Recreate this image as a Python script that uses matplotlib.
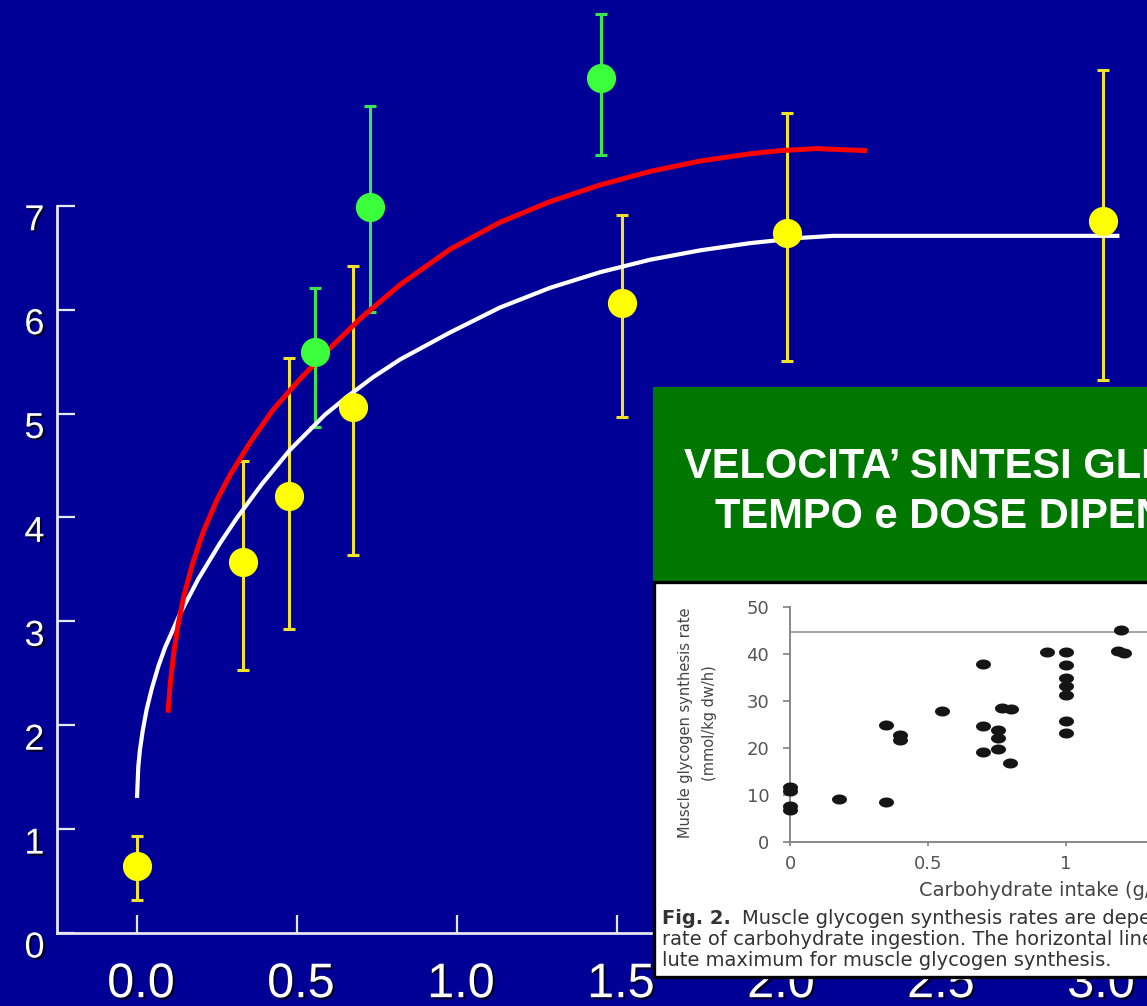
import matplotlib
matplotlib.use("Agg")
import numpy as np
import matplotlib.pyplot as plt
import matplotlib.patheffects as pe
from matplotlib.patches import Rectangle
from matplotlib.path import Path
from matplotlib.markers import MarkerStyle
from matplotlib.transforms import ScaledTranslation

# --- main panel data: glycogen synthesis vs carbohydrate intake ---
yellow_x = [0.0, 0.331, 0.475, 0.675, 1.516, 2.03, 3.02]
yellow_y = [0.645, 3.57, 4.21, 5.06, 6.06, 6.74, 6.85]
yellow_lo = [0.32, 2.53, 2.93, 3.64, 4.97, 5.51, 5.32]
yellow_hi = [0.93, 4.54, 5.53, 6.42, 6.91, 7.89, 8.31]

green_x = [0.556, 0.728, 1.45]
green_y = [5.59, 6.99, 8.23]
green_lo = [4.87, 5.98, 7.49]
green_hi = [6.21, 7.96, 8.85]

white_x = [0.0, 0.004, 0.009, 0.018, 0.030, 0.046, 0.067, 0.088, 0.134,
           0.192, 0.259, 0.311, 0.390, 0.478, 0.588, 0.660, 0.738, 0.822,
           0.978, 1.134, 1.291, 1.447, 1.603, 1.759, 1.916, 2.072, 2.175, 3.07]
white_y = [1.30, 1.60, 1.76, 1.95, 2.15, 2.35, 2.57, 2.75, 3.07,
           3.41, 3.75, 3.99, 4.32, 4.65, 4.99, 5.17, 5.35, 5.52,
           5.78, 6.02, 6.21, 6.36, 6.48, 6.57, 6.64, 6.69, 6.71, 6.71]

red_x = [0.097, 0.104, 0.115, 0.128, 0.146, 0.175, 0.208, 0.250, 0.291,
         0.353, 0.426, 0.509, 0.600, 0.700, 0.822, 0.978, 1.134, 1.291,
         1.447, 1.603, 1.759, 1.916, 2.009, 2.124, 2.281]
red_y = [2.12, 2.40, 2.70, 2.96, 3.24, 3.57, 3.87, 4.17, 4.41,
         4.72, 5.04, 5.33, 5.62, 5.92, 6.24, 6.58, 6.84, 7.04,
         7.20, 7.33, 7.43, 7.50, 7.53, 7.55, 7.53]

x_ticks = [0.0, 0.5, 1.0, 1.5, 2.0, 2.5, 3.0]
x_labels = ["0.0", "0.5", "1.0", "1.5", "2.0", "2.5", "3.0"]
y_ticks = [0, 1, 2, 3, 4, 5, 6, 7]

# --- inset: individual synthesis rates (mmol/kg dw/h) ---
dot_x = [0, 0, 0, 0, 0.177, 0.348, 0.348, 0.40, 0.40, 0.551,
         0.701, 0.701, 0.701, 0.753, 0.753, 0.753, 0.767, 0.80, 0.798,
         0.93, 1.0, 1.0, 1.0, 1.0, 1.0, 1.0, 1.0, 1.20, 1.19, 1.21]
dot_y = [11.8, 10.9, 7.6, 6.9, 9.2, 8.6, 25.0, 22.8, 21.7, 27.9,
         37.8, 24.7, 19.2, 23.8, 22.1, 19.9, 28.6, 28.3, 16.8,
         40.3, 40.3, 37.6, 34.8, 33.2, 31.3, 25.8, 23.1, 45.0, 40.6, 40.2]
max_rate = 44.7
inset_yticks = [0, 10, 20, 30, 40, 50]
inset_xticks = [0, 0.5, 1]
inset_xlabels = ["0", "0.5", "1"]

title_lines = ["VELOCITA\u2019 SINTESI GLICOGENO", "TEMPO e DOSE DIPENDENTE"]
caption_lines = [
    "Muscle glycogen synthesis rates are dependent on the",
    "rate of carbohydrate ingestion. The horizontal line represents the abso-",
    "lute maximum for muscle glycogen synthesis.",
]

BG = "#000096"
YELLOW = "#FFFF00"
YBAR = "#F2E22C"
GREEN = "#3CFF3C"
GBAR = "#3AE650"

W, H = 1147, 1006
fig = plt.figure(figsize=(W / 100, H / 100), dpi=100, facecolor=BG)


def fx(px):
    return px / W


def fy(py):
    return 1 - py / H


shadow = [pe.withSimplePatchShadow(offset=(1.5, -1.5), shadow_rgbFace="black", alpha=0.7)]

ax = fig.add_axes([fx(57), fy(933), 1 - fx(57), fy(0) - fy(933)])
ax.set_facecolor(BG)
ax.set_xlim(-0.25, 3.156)
ax.set_ylim(0, 8.98)

for s in ["top", "right"]:
    ax.spines[s].set_visible(False)
for s in ["left", "bottom"]:
    ax.spines[s].set_color("#E6E6F0")
    ax.spines[s].set_linewidth(2.0)
ax.spines["left"].set_bounds(0, 7)

ax.set_xticks(x_ticks)
ax.set_xticklabels(x_labels)
ax.set_yticks(y_ticks)
ax.tick_params(axis="both", direction="in", length=13, width=1.6, colors="#E6E6F0")
ax.tick_params(axis="x", labelsize=35, pad=21, labelcolor="white")
ax.tick_params(axis="y", labelsize=26, pad=9, labelcolor="white")
for lbl in ax.get_xticklabels() + ax.get_yticklabels():
    lbl.set_family("Liberation Sans")
    lbl.set_path_effects(shadow)
for lbl in ax.get_yticklabels():
    lbl.set_transform(lbl.get_transform() + ScaledTranslation(0, -0.11, fig.dpi_scale_trans))
for lbl in ax.get_xticklabels():
    lbl.set_transform(lbl.get_transform() + ScaledTranslation(0.04, 0, fig.dpi_scale_trans))

# error bars under the curves, markers on top
yerr = [np.array(yellow_y) - np.array(yellow_lo), np.array(yellow_hi) - np.array(yellow_y)]
gerr = [np.array(green_y) - np.array(green_lo), np.array(green_hi) - np.array(green_y)]
ax.errorbar(yellow_x, yellow_y, yerr=yerr, fmt="none", ecolor=YBAR,
            elinewidth=2.2, capsize=4.5, capthick=2.2, zorder=2, clip_on=False)
ax.errorbar(green_x, green_y, yerr=gerr, fmt="none", ecolor=GBAR,
            elinewidth=2.2, capsize=4.5, capthick=2.2, zorder=2, clip_on=False)

ax.plot(white_x, white_y, color="white", lw=3.0, zorder=3,
        solid_capstyle="butt", solid_joinstyle="round")
ax.plot(red_x, red_y, color="#FF0000", lw=3.6, zorder=3,
        solid_capstyle="butt", solid_joinstyle="round")

ax.plot(yellow_x, yellow_y, "o", color=YELLOW, ms=21, mew=0, zorder=4, clip_on=False)
ax.plot(green_x, green_y, "o", color=GREEN, ms=21, mew=0, zorder=4, clip_on=False)

# inset slide box: green title band over a white figure panel
fig.add_artist(Rectangle((fx(653), fy(582)), 1.05 - fx(653), fy(387) - fy(582),
                         transform=fig.transFigure, facecolor="#007800",
                         edgecolor="none", zorder=2))
fig.add_artist(Rectangle((fx(654), fy(977)), 1.05 - fx(654), fy(582) - fy(977),
                         transform=fig.transFigure, facecolor="white",
                         edgecolor="black", lw=2.4, zorder=2))

for txt, py in zip(title_lines, [467, 517]):
    fig.text(fx(1011), fy(py), txt, ha="center", va="center", fontsize=30,
             weight="bold", color="white", family="Liberation Sans", zorder=3)

fig.text(fx(662), fy(918), "Fig. 2.", ha="left", va="center", fontsize=14,
         weight="bold", color="#333333", family="DejaVu Sans", zorder=3)
fig.text(fx(742), fy(918), caption_lines[0], ha="left", va="center", fontsize=14,
         color="#333333", family="DejaVu Sans", zorder=3)
fig.text(fx(662), fy(939.5), caption_lines[1], ha="left", va="center", fontsize=14,
         color="#333333", family="DejaVu Sans", zorder=3)
fig.text(fx(662), fy(961), caption_lines[2], ha="left", va="center", fontsize=14,
         color="#333333", family="DejaVu Sans", zorder=3)

axi = fig.add_axes([fx(790), fy(842.3), 1 - fx(790), fy(606.7) - fy(842.3)], zorder=5)
axi.patch.set_alpha(0)
axi.set_xlim(0, (W - 790) / 276)
axi.set_ylim(0, 50)
for s in ["top", "right"]:
    axi.spines[s].set_visible(False)
for s in ["left", "bottom"]:
    axi.spines[s].set_color("#808080")
    axi.spines[s].set_linewidth(1.3)

axi.set_yticks(inset_yticks)
axi.set_xticks(inset_xticks)
axi.set_xticklabels(inset_xlabels)
axi.tick_params(axis="y", direction="out", length=5, width=1.2, colors="#808080",
                labelcolor="#555555", labelsize=13, pad=10)
axi.tick_params(axis="x", direction="out", length=3, width=1.2, colors="#808080",
                labelcolor="#555555", labelsize=13, pad=6)

axi.axhline(max_rate, color="#8C8C8C", lw=1.1, zorder=1)

t = np.linspace(0, 2 * np.pi, 64)
ellipse = MarkerStyle(Path(np.column_stack([1.5 * np.cos(t), np.sin(t)]), closed=True))
axi.plot(dot_x, dot_y, linestyle="none", marker=ellipse, ms=10.8, color="#151515",
         mew=0, clip_on=False, zorder=3)

axi.set_xlabel("Carbohydrate intake (g/kg/h)", ha="left", va="center",
               fontsize=14, color="#444444", family="DejaVu Sans")
axi.xaxis.set_label_coords((919 - 790) / 357, (842.3 - 890) / 235.6)
axi.set_ylabel("Muscle glycogen synthesis rate\n(mmol/kg dw/h)", ha="center", va="center",
               fontsize=10.5, color="#444444", family="DejaVu Sans", linespacing=1.7)
axi.yaxis.set_label_coords((697.5 - 790) / 357, (842.3 - 723) / 235.6)

fig.savefig("out.png", dpi=100, facecolor=BG)
